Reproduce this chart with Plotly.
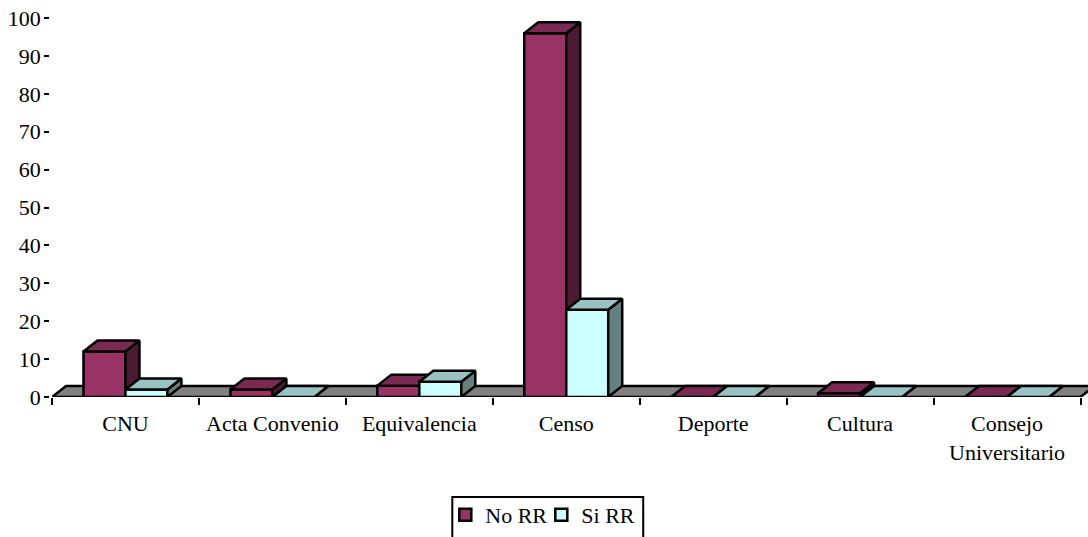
import plotly.graph_objects as go

categories = ["CNU", "Acta Convenio", "Equivalencia", "Censo", "Deporte", "Cultura", "Consejo<br>Universitario"]
no_rr = [12, 2, 3, 96, 0, 1, 0]
si_rr = [2, 0, 4, 23, 0, 0, 0]

W, H = 1088, 537
L, R, T, B = 51.5, 1088, 18, 397
n = len(categories)
ux = 147
xs = [i + 0.5 for i in range(n)]
uy = (B - T) / 100
bw = 42 / ux
dx = 14 / ux
dy = 11 / uy
LW = 2.5
FONT = dict(family="Liberation Serif", size=22, color="black")

fig = go.Figure()

def poly(px, py, color, z):
    fig.add_trace(go.Scatter(x=px + px[:1], y=py + py[:1], mode="lines", fill="toself",
                             fillcolor=color, line=dict(color="black", width=LW),
                             showlegend=False, hoverinfo="skip", cliponaxis=False, zorder=z))

poly([0, n, n + dx, dx], [0, 0, dy, dy], "#808080", 0)

z = 1
series = [("No RR", no_rr, "#993366", "#7A2952", "#4D1A33", -bw),
          ("Si RR", si_rr, "#CCFFFF", "#99C2C2", "#668080", 0)]
for i, x in enumerate(xs):
    for name, vals, face, top, side, off in series:
        v = vals[i]
        x0 = x + off
        x1 = x0 + bw
        fig.add_trace(go.Bar(x=[x], y=[v], width=bw, offset=off, name=name, legendgroup=name,
                             showlegend=(i == 0), marker=dict(color=face, line=dict(color="black", width=LW)),
                             hovertemplate=name + ": %{y}<extra></extra>", zorder=z))
        z += 1
        poly([x1, x1 + dx, x1 + dx, x1], [0, dy, v + dy, v], side, z)
        z += 1
        poly([x0, x1, x1 + dx, x0 + dx], [v, v, v + dy, v + dy], top, z)
        z += 1

fig.update_layout(
    width=W, height=H, autosize=False,
    margin=dict(l=L, r=W - R, t=T, b=H - B, autoexpand=False),
    paper_bgcolor="white", plot_bgcolor="white",
    barmode="overlay", font=FONT, showlegend=True,
    legend=dict(orientation="h", x=(445 - L) / (R - L), xanchor="left", y=(B - 494) / (B - T), yanchor="top",
                font=FONT, bgcolor="rgba(0,0,0,0)", traceorder="normal", itemwidth=30,
                entrywidth=51, entrywidthmode="pixels"),
    xaxis=dict(range=[0, (R - L) / ux], tickmode="array", tickvals=xs, ticktext=categories, ticks="",
               showgrid=False, zeroline=False, showline=False,
               ticklabelstandoff=11, tickfont=FONT,
               minor=dict(tickmode="linear", tick0=0, dtick=1, ticks="outside", ticklen=7, tickwidth=2, tickcolor="black", showgrid=False)),
    yaxis=dict(range=[0, 100], tickmode="linear", tick0=0, dtick=10, ticks="outside", ticklen=5, tickwidth=2,
               tickcolor="black", showgrid=False, zeroline=False, showline=True, linecolor="black", linewidth=LW,
               tickfont=FONT, ticklabelstandoff=-1),
    shapes=[dict(type="rect", xref="paper", yref="paper",
                 x0=(452 - L) / (R - L), x1=(643 - L) / (R - L),
                 y0=(B - 545) / (B - T), y1=(B - 497) / (B - T),
                 line=dict(color="black", width=2), fillcolor="rgba(0,0,0,0)")],
)
fig.write_html("out.html", config=dict(displayModeBar=False),
               post_script="document.body.style.margin='0';")
